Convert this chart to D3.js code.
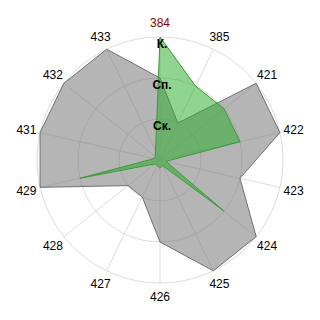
<!DOCTYPE html>
<html lang="ru">
<head>
    <meta charset="UTF-8">
    <title>Radar</title>
    <script src="https://d3js.org/d3.v7.min.js"></script>
    <style>
        body { margin: 0; padding: 0; background: #fff; }
        svg { display: block; font-family: 'Liberation Sans', Arial, sans-serif; }
    </style>
</head>
<body>
    <script>
        // данные
        const axes = ["384", "385", "421", "422", "423", "424", "425", "426", "427", "428", "429", "431", "432", "433"];
        const levels = ["Ск.", "Сп.", "К."];
        const levelValues = [1, 2, 3];
        const grayValues = [2, 1, 3, 3, 2, 3, 3, 2, 1, 1, 3, 3, 3, 3];
        const greenValues = [3, 2, 2, 2, 0.15, 2, 0.15, 0.2, 0.15, 0.15, 2, 0.15, 0.15, 0.25];

        const width = 320, height = 320;
        const cx = 160, cy = 160;

        const svg = d3.select("body").append("svg")
            .attr("width", width)
            .attr("height", height);

        const r = d3.scaleLinear().domain([0, 3]).range([0, 123]);
        const angle = d3.scalePoint().domain(axes).range([0, 2 * Math.PI * (axes.length - 1) / axes.length]);

        const g = svg.append("g").attr("transform", `translate(${cx},${cy})`);

        // сетка
        g.selectAll("circle.ring")
            .data(levelValues)
            .enter().append("circle")
            .attr("r", d => r(d))
            .attr("fill", "none")
            .attr("stroke", "#dcdcdc")
            .attr("stroke-width", 1);

        g.selectAll("line.spoke")
            .data(axes)
            .enter().append("line")
            .attr("x1", 0).attr("y1", 0)
            .attr("x2", d => r(3) * Math.sin(angle(d)))
            .attr("y2", d => -r(3) * Math.cos(angle(d)))
            .attr("stroke", "#dcdcdc")
            .attr("stroke-width", 1);

        const radial = d3.lineRadial()
            .angle((d, i) => angle(axes[i]))
            .radius(d => r(d))
            .curve(d3.curveLinearClosed);

        g.append("path")
            .attr("d", radial(grayValues))
            .attr("fill", "rgb(120,120,120)")
            .attr("fill-opacity", 0.55)
            .attr("stroke", "#707070")
            .attr("stroke-width", 1);

        g.append("path")
            .attr("d", radial(greenValues))
            .attr("fill", "rgb(40,172,40)")
            .attr("fill-opacity", 0.52)
            .attr("stroke", "#3a9a3a")
            .attr("stroke-width", 1);

        // подписи осей
        g.selectAll("text.axis")
            .data(axes)
            .enter().append("text")
            .attr("x", d => 137 * Math.sin(angle(d)))
            .attr("y", d => -137 * Math.cos(angle(d)))
            .attr("dy", "0.35em")
            .attr("text-anchor", "middle")
            .attr("font-size", 12)
            .attr("fill", (d, i) => i === 0 ? "#8b0000" : "#000")
            .text(d => d);

        // подписи уровней
        g.selectAll("text.level")
            .data(levelValues)
            .enter().append("text")
            .attr("x", 2)
            .attr("y", (d) => -r(d) + 11)
            .attr("text-anchor", "middle")
            .attr("font-size", 12)
            .attr("font-weight", "bold")
            .attr("fill", "#000")
            .text((d, i) => levels[i]);
    </script>
</body>
</html>
